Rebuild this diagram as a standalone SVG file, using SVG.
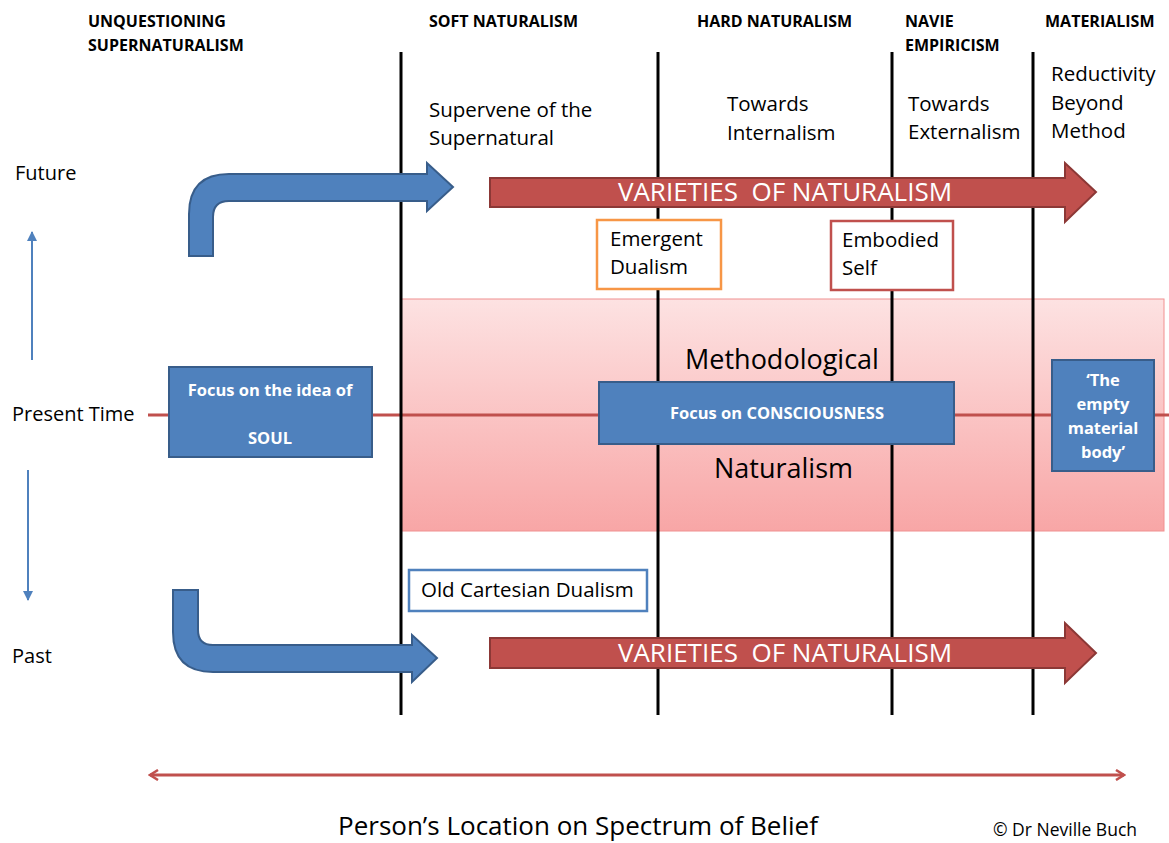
<svg xmlns="http://www.w3.org/2000/svg" width="1169" height="843" viewBox="0 0 1169 843">
<defs>
<linearGradient id="pink" x1="0" y1="0" x2="0" y2="1">
<stop offset="0" stop-color="#fde2e2"/>
<stop offset="1" stop-color="#f8a6a6"/>
</linearGradient>
<marker id="chev" viewBox="0 0 12 12" refX="10" refY="6" markerWidth="12" markerHeight="12" markerUnits="userSpaceOnUse" orient="auto-start-reverse">
<path d="M2,1 L10,6 L2,11" fill="none" stroke="#c0504d" stroke-width="2.5"/>
</marker>
<marker id="blueHead" viewBox="0 0 10 10" refX="9" refY="5" markerWidth="10" markerHeight="10" markerUnits="userSpaceOnUse" orient="auto">
<path d="M0,0 L10,5 L0,10 Z" fill="#4f81bd"/>
</marker>
</defs>
<style>
text{font-family:"Open Sans","Liberation Sans",Arial,sans-serif;fill:#000}
.hd{font-size:16px;font-weight:bold}
.sub{font-size:20.5px}
.side{font-size:20px}
.wb{fill:#fff;font-weight:bold;font-size:16.5px}
.big{fill:#fff;font-size:26px}
.vl{stroke:#000;stroke-width:3}
.bluebox{fill:#4f81bd;stroke:#385d8a;stroke-width:2}
.bluearr{fill:#4f81bd;stroke:#385d8a;stroke-width:2}
.redarr{fill:#c0504d;stroke:#8c3836;stroke-width:2}
</style>
<rect width="1169" height="843" fill="#fff"/>
<g id="band">
<rect x="401" y="299" width="763" height="232" fill="url(#pink)" stroke="#f09090" stroke-width="1"/>
</g>
<g id="connectors">
<line x1="148" y1="415" x2="1169" y2="415" stroke="#c0504d" stroke-width="3"/>
<line class="vl" x1="401" y1="52" x2="401" y2="715"/>
<line class="vl" x1="658" y1="52" x2="658" y2="715"/>
<line class="vl" x1="892" y1="52" x2="892" y2="715"/>
<line class="vl" x1="1033" y1="52" x2="1033" y2="715"/>
<line x1="32" y1="360" x2="32" y2="232" stroke="#4f81bd" stroke-width="2" marker-end="url(#blueHead)"/>
<line x1="28" y1="470" x2="28" y2="600" stroke="#4f81bd" stroke-width="2" marker-end="url(#blueHead)"/>
<line x1="150" y1="775" x2="1124" y2="775" stroke="#c0504d" stroke-width="3" marker-start="url(#chev)" marker-end="url(#chev)"/>
</g>
<g id="headers">
<text class="hd" x="88" y="27">UNQUESTIONING</text>
<text class="hd" x="88" y="51">SUPERNATURALISM</text>
<text class="hd" x="429" y="27">SOFT NATURALISM</text>
<text class="hd" x="697" y="27">HARD NATURALISM</text>
<text class="hd" x="905" y="27">NAVIE</text>
<text class="hd" x="905" y="51">EMPIRICISM</text>
<text class="hd" x="1045" y="27">MATERIALISM</text>
</g>
<g id="sublabels">
<text class="sub" x="429" y="117">Supervene of the</text>
<text class="sub" x="429" y="145">Supernatural</text>
<text class="sub" x="727" y="111">Towards</text>
<text class="sub" x="727" y="140">Internalism</text>
<text class="sub" x="908" y="111">Towards</text>
<text class="sub" x="908" y="139">Externalism</text>
<text class="sub" x="1051" y="81">Reductivity</text>
<text class="sub" x="1051" y="110">Beyond</text>
<text class="sub" x="1051" y="138">Method</text>
</g>
<g id="timelabels">
<text class="side" x="15" y="180">Future</text>
<text class="side" x="12" y="421">Present Time</text>
<text class="side" x="12" y="663">Past</text>
</g>
<g id="bent-arrow-future">
<path class="bluearr" d="M189,256 L189,214 Q189,174 229,174 L427,174 L427,163 L453,187 L427,211 L427,201 L229,201 Q213,201 213,217 L213,256 Z"/>
</g>
<g id="bent-arrow-past">
<path class="bluearr" d="M173,590 L198,590 L198,630 Q198,645 213,645 L412,645 L412,635 L437,658 L412,682 L412,672 L213,672 Q173,672 173,632 Z"/>
</g>
<g id="naturalism-future">
<path class="redarr" d="M490,178 L1065,178 L1065,163 L1096,192 L1065,222 L1065,207 L490,207 Z"/>
<text class="big" x="785" y="201" text-anchor="middle">VARIETIES&#160; OF NATURALISM</text>
</g>
<g id="naturalism-past">
<path class="redarr" d="M490,638 L1065,638 L1065,623 L1096,653 L1065,683 L1065,668 L490,668 Z"/>
<text class="big" x="785" y="662" text-anchor="middle">VARIETIES&#160; OF NATURALISM</text>
</g>
<g id="emergent-dualism">
<rect x="597" y="220" width="124" height="69" fill="#fff" stroke="#f79646" stroke-width="2.5"/>
<text class="sub" x="610" y="246">Emergent</text>
<text class="sub" x="610" y="274">Dualism</text>
</g>
<g id="embodied-self">
<rect x="831" y="221" width="122" height="69" fill="#fff" stroke="#c0504d" stroke-width="2.5"/>
<text class="sub" x="842" y="247">Embodied</text>
<text class="sub" x="842" y="275">Self</text>
</g>
<g id="old-cartesian">
<rect x="409" y="570" width="238" height="41" fill="#fff" stroke="#4f81bd" stroke-width="2.5"/>
<text class="sub" x="421" y="597">Old Cartesian Dualism</text>
</g>
<g id="soul">
<rect class="bluebox" x="169" y="367" width="203" height="90"/>
<text class="wb" x="270" y="396" text-anchor="middle">Focus on the idea of</text>
<text class="wb" x="270" y="444" text-anchor="middle">SOUL</text>
</g>
<g id="methodological-naturalism">
<text x="685" y="369" style="font-size:27px">Methodological</text>
<text x="714" y="478" style="font-size:27px">Naturalism</text>
</g>
<g id="consciousness">
<rect class="bluebox" x="599" y="382" width="355" height="62"/>
<text class="wb" x="777" y="419" text-anchor="middle" style="font-size:16.5px">Focus on CONSCIOUSNESS</text>
</g>
<g id="empty-body">
<rect class="bluebox" x="1052" y="360" width="102" height="111"/>
<text class="wb" x="1103" y="386" text-anchor="middle">‘The</text>
<text class="wb" x="1103" y="410" text-anchor="middle">empty</text>
<text class="wb" x="1103" y="434" text-anchor="middle">material</text>
<text class="wb" x="1103" y="458" text-anchor="middle">body’</text>
</g>
<g id="footer">
<text x="578" y="835" text-anchor="middle" style="font-size:26px">Person’s Location on Spectrum of Belief</text>
<text x="993" y="836" style="font-size:17.5px">©  Dr Neville Buch</text>
</g>
</svg>
